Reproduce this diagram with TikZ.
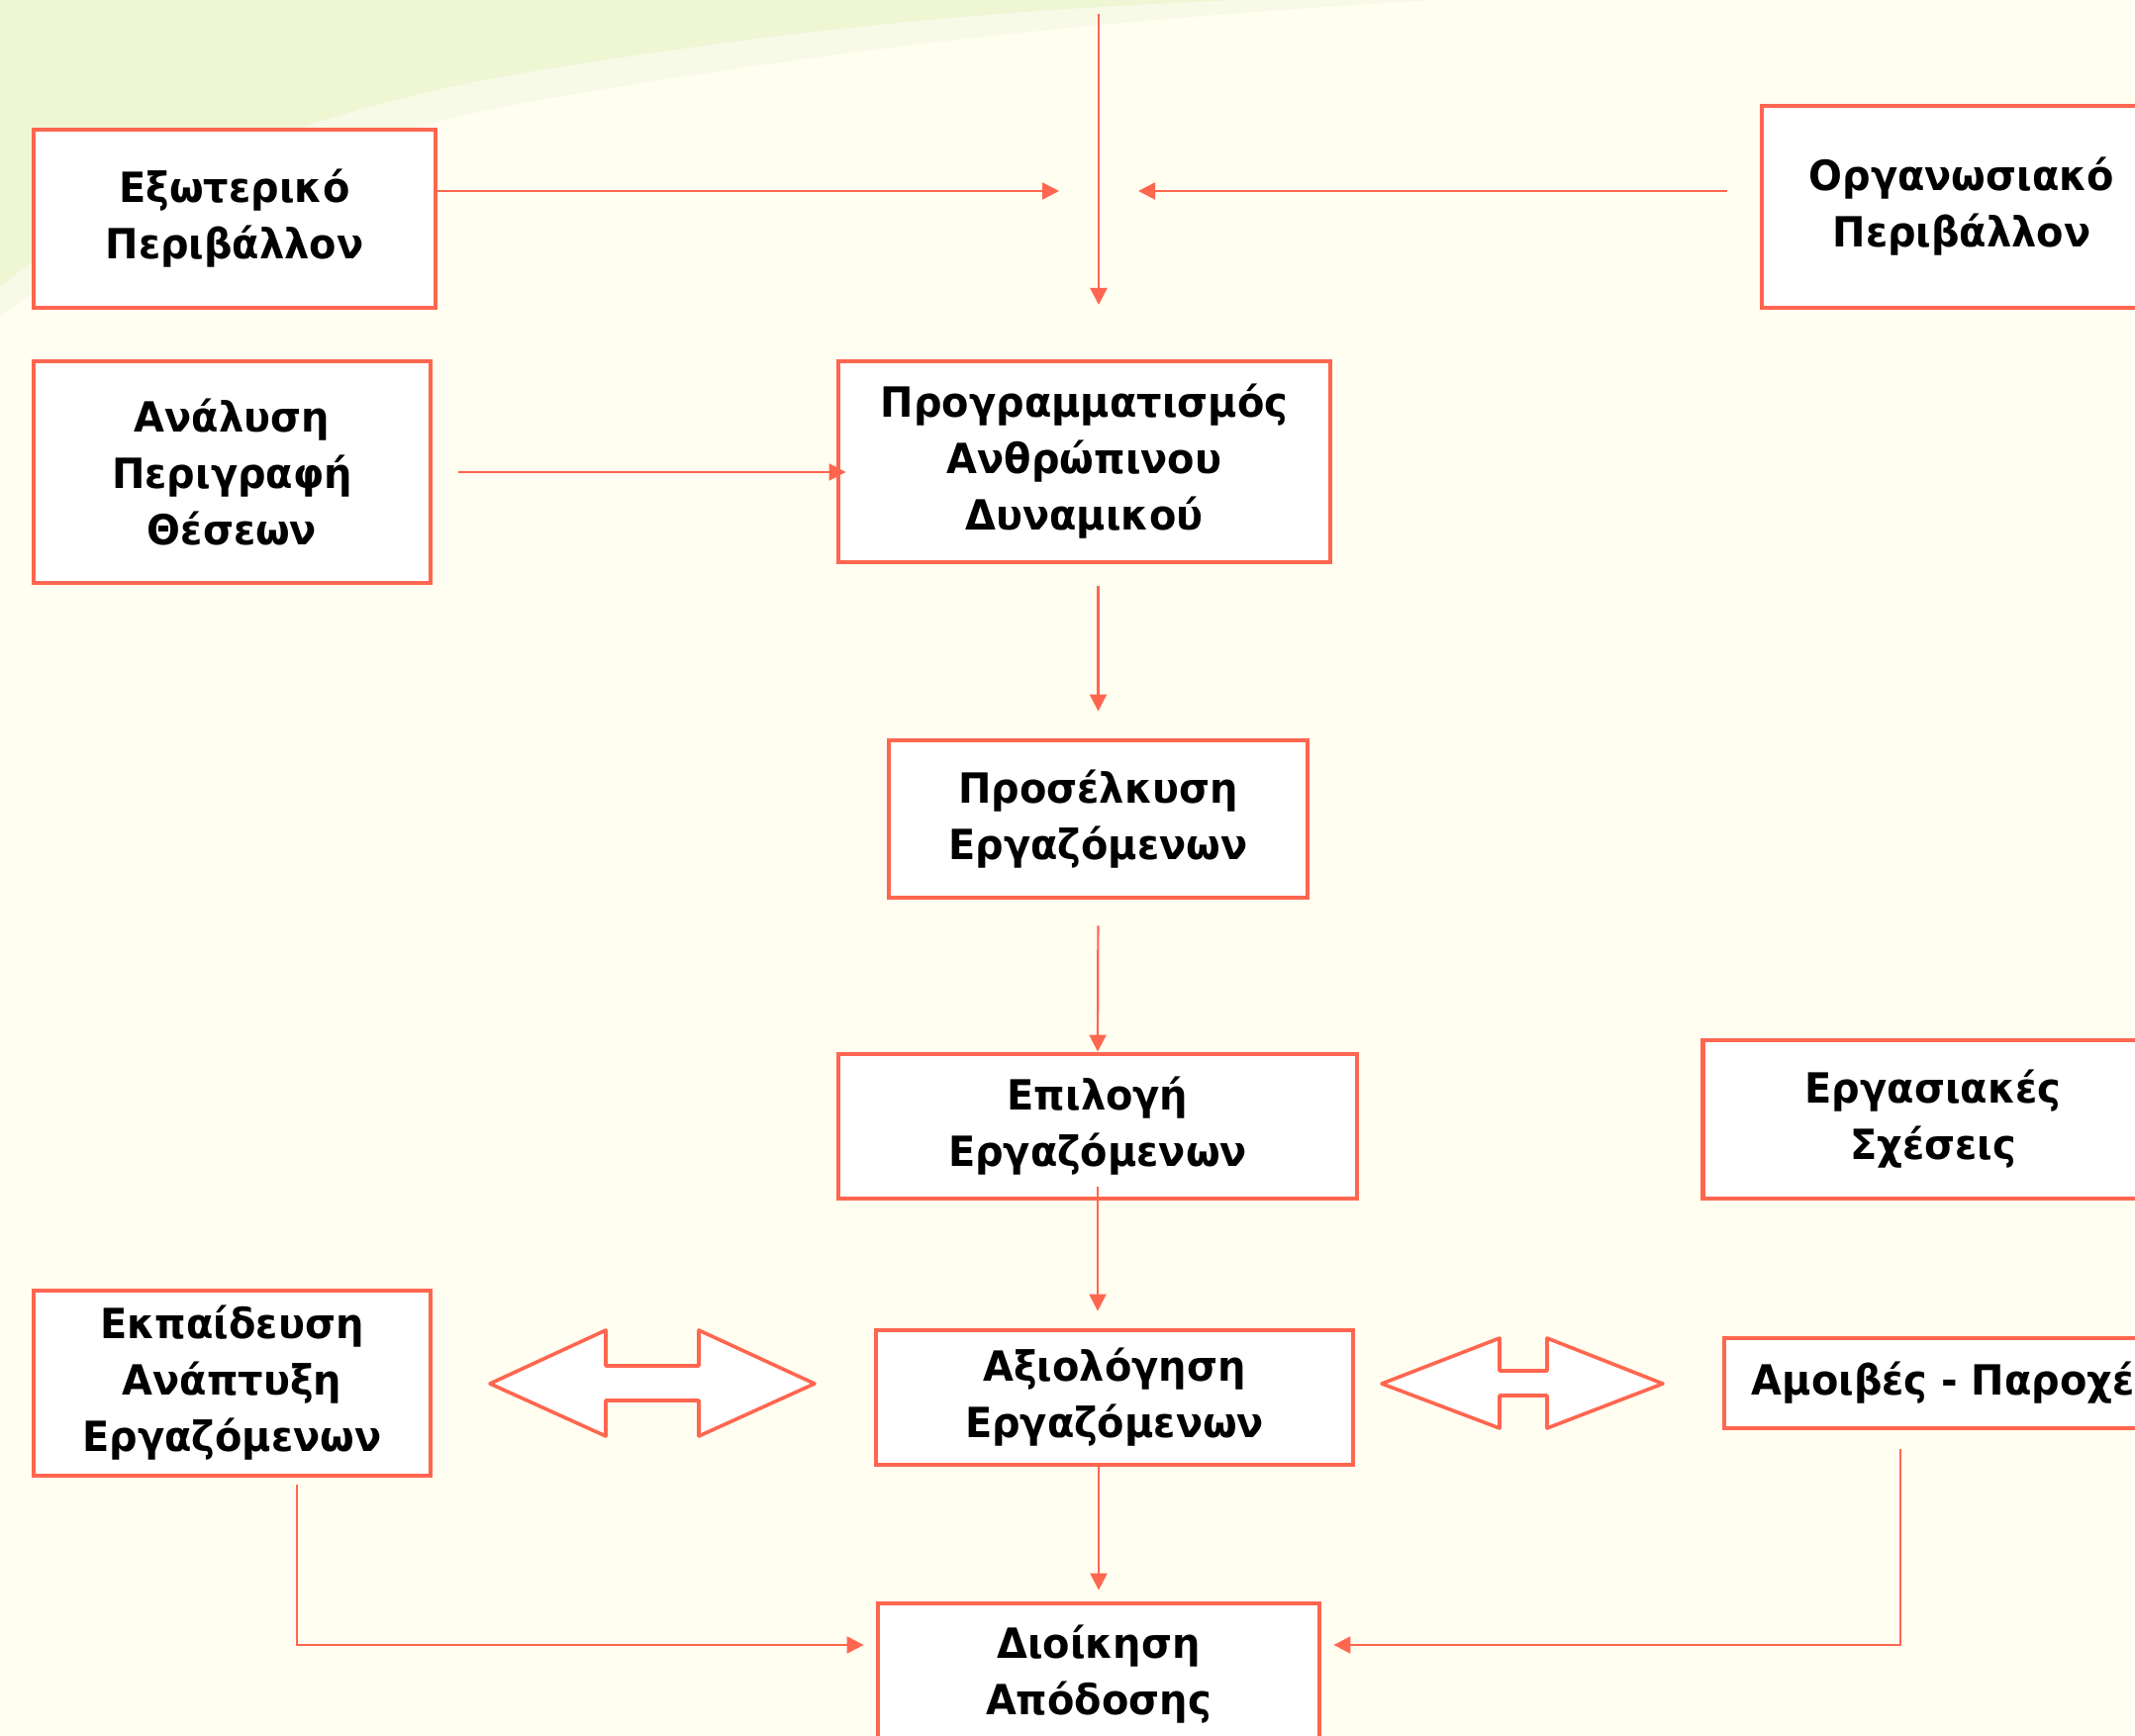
\documentclass[tikz,border=0pt]{standalone}
\usepackage{fontspec}
\setmainfont{DejaVu Sans}[BoldFeatures={FakeStretch=0.95}]
\usetikzlibrary{arrows.meta}
\definecolor{coral}{RGB}{255,102,80}
\definecolor{cream}{RGB}{255,254,240}
\definecolor{leaf}{RGB}{238,246,212}
\definecolor{leaflight}{RGB}{247,250,230}
\tikzset{
 box/.style={draw=coral, line width=2.4pt, fill=white, align=center, font=\fontsize{21}{28.5}\selectfont\bfseries, inner sep=0pt},
 conn/.style={draw=coral, line width=1.1pt, -{Triangle[length=8.5pt,width=8.5pt]}},
 dbl/.style={draw=coral, line width=1.8pt, fill=white, line join=round},
}
\begin{document}
\begin{tikzpicture}[x=0.5pt,y=-0.5pt]
\useasboundingbox (0,0) rectangle (2157,1754);
\clip (0,0) rectangle (2157,1754);
\fill[cream] (0,0) rectangle (2157,1754);
\fill[leaflight] (0,0) -- (0,320) .. controls (130,220) and (330,135) .. (580,95) .. controls (850,50) and (1100,20) .. (1450,0) -- cycle;
\fill[leaf] (0,0) -- (0,290) .. controls (120,190) and (300,110) .. (550,70) .. controls (800,30) and (1000,10) .. (1250,0) -- cycle;

\node[box, minimum width=203pt, minimum height=90pt] (ext) at (237,221) {Εξωτερικό\\Περιβάλλον};
\node[box, minimum width=202pt, minimum height=102pt] (org) at (1982,209) {Οργανωσιακό\\Περιβάλλον};
\node[box, minimum width=200.5pt, minimum height=112pt] (anal) at (234.5,477) {Ανάλυση\\Περιγραφή\\Θέσεων};
\node[box, minimum width=248.5pt, minimum height=101.5pt] (prog) at (1095.5,466.5) {Προγραμματισμός\\Ανθρώπινου\\Δυναμικού};
\node[box, minimum width=211.5pt, minimum height=79.5pt] (pros) at (1109.5,827.5) {Προσέλκυση\\Εργαζόμενων};
\node[box, minimum width=262pt, minimum height=73pt] (epil) at (1109,1138) {Επιλογή\\Εργαζόμενων};
\node[box, minimum width=232.5pt, minimum height=80pt] (ergs) at (1953,1131) {Εργασιακές\\Σχέσεις};
\node[box, minimum width=241pt, minimum height=68pt] (axi) at (1126,1412) {Αξιολόγηση\\Εργαζόμενων};
\node[box, minimum width=200.5pt, minimum height=93.5pt] (ekp) at (234.5,1397.5) {Εκπαίδευση\\Ανάπτυξη\\Εργαζόμενων};
\node[box, minimum width=233pt, minimum height=45.5pt] (amoi) at (1975,1397.5) {Αμοιβές - Παροχές};
\node[box, minimum width=223pt, minimum height=72pt] (dioi) at (1110,1692) {Διοίκηση\\Απόδοσης};

% double arrows
\draw[dbl] (495,1398) -- (612,1344) -- (612,1380) -- (706,1380) -- (706,1344) -- (823,1398) -- (706,1451) -- (706,1415) -- (612,1415) -- (612,1451) -- cycle;
\draw[dbl] (1396,1398) -- (1515,1352) -- (1515,1385) -- (1563,1385) -- (1563,1352) -- (1680,1398) -- (1563,1443) -- (1563,1410) -- (1515,1410) -- (1515,1443) -- cycle;

% connectors
\coordinate (top) at (1110,14);
\coordinate (meet) at (1110,308);
\coordinate (inL) at (1070,193);
\coordinate (inR) at (1150,193);
\coordinate (jl) at (300,1662);
\coordinate (jr) at (1920,1662);
\draw[conn] (top) -- (meet);
\draw[conn] (ext.east |- inL) -- (inL);
\draw[conn, shorten <=16.5pt] (org.west |- inR) -- (inR);
\draw[conn, shorten <=13pt, shorten >=-5pt] (anal.east) -- (prog.west |- anal.east);
\draw[conn, shorten <=11pt, shorten >=13.5pt] (prog.south -| pros) -- (pros.north);
\draw[conn, shorten <=13pt] (pros.south) -- (epil.north);
\draw[conn, shorten <=-7pt, shorten >=8.5pt] (epil.south) -- (axi.north -| epil);
\draw[conn, shorten >=5.5pt] (axi.south -| dioi) -- (dioi.north);
\draw[conn, shorten <=3.5pt, shorten >=6pt] (ekp.south -| jl) -- (jl) -- (dioi.west |- jl);
\draw[conn, shorten <=9.5pt, shorten >=6pt] (amoi.south -| jr) -- (jr) -- (dioi.east |- jr);
\end{tikzpicture}
\end{document}
